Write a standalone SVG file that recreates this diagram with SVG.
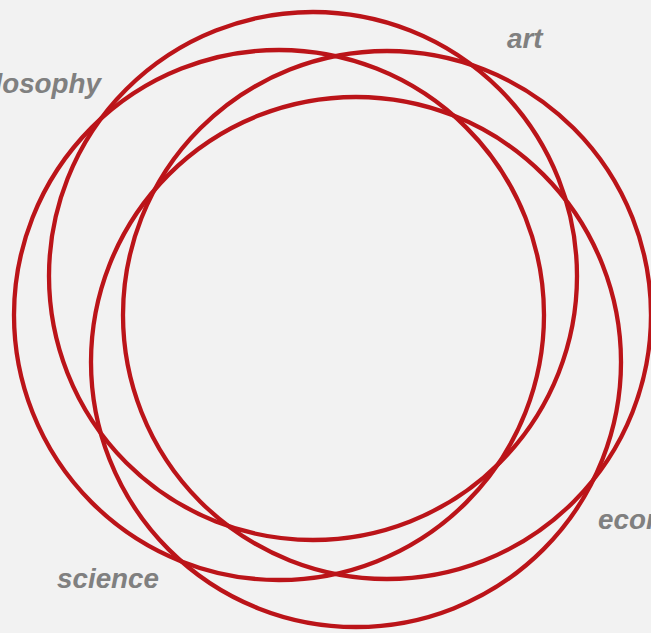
<svg xmlns="http://www.w3.org/2000/svg" width="651" height="633" viewBox="0 0 651 633">
<style>
.ring{fill:none;stroke:#bb1419;stroke-width:4.3}
.lbl{font-family:"Liberation Sans",Arial,sans-serif;font-size:27.8px;font-weight:bold;font-style:italic;fill:#808080}
</style>
<rect width="651" height="633" fill="#f2f2f2"/>
<g id="art"><circle class="ring" cx="313" cy="276" r="264"/><text class="lbl" x="507" y="48">art</text></g>
<g id="philosophy"><circle class="ring" cx="279" cy="315" r="265"/><text class="lbl" x="101" y="93" text-anchor="end">philosophy</text></g>
<g id="economics"><circle class="ring" cx="387" cy="315" r="264"/><text class="lbl" x="598" y="529">economics</text></g>
<g id="science"><circle class="ring" cx="356" cy="362" r="265"/><text class="lbl" x="57" y="588">science</text></g>
<g id="connectors"></g>
</svg>
